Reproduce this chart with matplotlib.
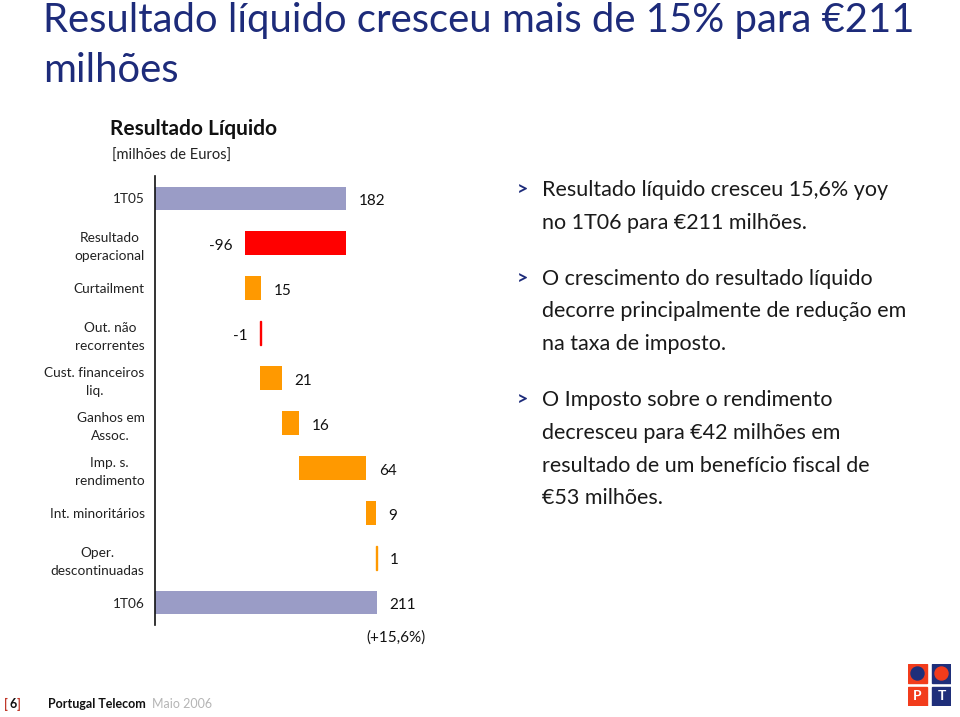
import numpy as np
import matplotlib
matplotlib.use("Agg")
import matplotlib.pyplot as plt
from matplotlib.patches import Rectangle, Circle

plt.rcParams['font.family'] = ['Lato', 'DejaVu Sans']

W, H = 960, 717

categories = ["1T05", "Resultado\noperacional", "Curtailment", "Out. não\nrecorrentes",
              "Cust. financeiros\nliq.", "Ganhos em\nAssoc.", "Imp. s.\nrendimento",
              "Int. minoritários", "Oper.\ndescontinuadas", "1T06"]
values = [182, -96, 15, -1, 21, 16, 64, 9, 1, 211]
is_total = [True, False, False, False, False, False, False, False, False, True]
value_labels = ["182", "-96", "15", "-1", "21", "16", "64", "9", "1", "211"]
growth_label = "(+15,6%)"

bullets = [
    ["Resultado líquido cresceu 15,6% yoy", "no 1T06 para €211 milhões."],
    ["O crescimento do resultado líquido", "decorre principalmente de redução em", "na taxa de imposto."],
    ["O Imposto sobre o rendimento", "decresceu para €42 milhões em", "resultado de um benefício fiscal de", "€53 milhões."],
]

TOTAL_C = "#9a9cc6"
NEG_C = "#ff0000"
POS_C = "#ff9900"
NAVY = "#1d2b7a"


def fx(px):
    return px / W


def fy(py):
    return 1 - py / H


fig = plt.figure(figsize=(W / 100, H / 100), dpi=100)
fig.patch.set_facecolor("white")

# title
fig.text(fx(43), fy(32), "Resultado líquido cresceu mais de 15% para €211",
         fontsize=28.8, color=NAVY, va='baseline')
fig.text(fx(43), fy(82), "milhões", fontsize=28.8, color=NAVY, va='baseline')

fig.text(fx(110), fy(129), "Resultado Líquido", fontsize=15, fontweight='bold', color="#111111", va='center')
fig.text(fx(112), fy(156), "[milhões de Euros]", fontsize=10.5, color="#222222", va='center')

# waterfall
ax = fig.add_axes([fx(155), fy(625), fx(470) - fx(155), fy(176) - fy(625)])
scale = 1.052  # px per unit
ax.set_xlim(0, 315 / scale)
ax.set_ylim(len(categories) - 0.5, -0.5)

running = 0
for i, (v, tot) in enumerate(zip(values, is_total)):
    if tot:
        left, width, col = 0, v, TOTAL_C
        running = v
    else:
        left = running if v > 0 else running + v
        width = abs(v)
        col = POS_C if v > 0 else NEG_C
        running += v
    lw = 1.0 if width < 3 else 0
    ax.barh(i, width, left=left, height=0.53, color=col, edgecolor=col, linewidth=lw)
    if tot or v > 0:
        ax.annotate(value_labels[i], (left + width, i), xytext=(9, -2), textcoords='offset points',
                    ha='left', va='center', fontsize=11, color="#111111")
    else:
        ax.annotate(value_labels[i], (left, i), xytext=(-9, -2), textcoords='offset points',
                    ha='right', va='center', fontsize=11, color="#111111")

ax.annotate(growth_label, (values[-1], len(categories) - 1), xytext=(14, -25), textcoords='offset points',
            ha='center', va='center', fontsize=11, color="#111111")

ax.set_yticks(range(len(categories)))
ax.set_yticklabels(categories, multialignment='center', fontsize=9.8, color="#222222", linespacing=1.6)
ax.tick_params(left=False, pad=4)
ax.set_xticks([])
for s in ['top', 'right', 'bottom']:
    ax.spines[s].set_visible(False)
ax.spines['left'].set_color("#111111")
ax.spines['left'].set_linewidth(1.2)
ax.patch.set_alpha(0)

# bullet text
y = 196
for block in bullets:
    fig.text(fx(517), fy(y - 1), ">", fontsize=14, color=NAVY, fontweight='bold', va='baseline')
    for line in block:
        fig.text(fx(542), fy(y), line, fontsize=15.5, color="#1a1a1a", va='baseline')
        y += 32.8
    y += 23

# footer
fig.text(fx(4), fy(704), "[", fontsize=9, color="#c0392b", fontweight='bold', va='center')
fig.text(fx(10), fy(704), "6", fontsize=9, color="#111111", fontweight='bold', va='center')
fig.text(fx(17), fy(704), "]", fontsize=9, color="#c0392b", fontweight='bold', va='center')
fig.text(fx(48), fy(704), "Portugal Telecom", fontsize=9, color="#111111", fontweight='bold', va='center')
fig.text(fx(152), fy(704), "Maio 2006", fontsize=9, color="#b5b5b5", va='center')

# logo
lax = fig.add_axes([fx(908), fy(706), fx(951) - fx(908), fy(664) - fy(706)])
lax.set_xlim(0, 43)
lax.set_ylim(0, 42)
lax.axis('off')
LR, LB = "#f23c1c", "#1f2f7a"
s = 19
lax.add_patch(Rectangle((0, 23), s, s, color=LR))
lax.add_patch(Rectangle((24, 23), s, s, color=LB))
lax.add_patch(Rectangle((0, 0), s, s, color=LR))
lax.add_patch(Rectangle((24, 0), s, s, color=LB))
lax.add_patch(Circle((9.5, 32.5), 6.5, color=LB))
lax.add_patch(Circle((33.5, 32.5), 6.5, color=LR))
lax.text(9.5, 9.5, "P", color="white", fontsize=10, fontweight='bold', ha='center', va='center')
lax.text(33.5, 9.5, "T", color="white", fontsize=10, fontweight='bold', ha='center', va='center')

fig.savefig("out.png", dpi=100, facecolor="white")
